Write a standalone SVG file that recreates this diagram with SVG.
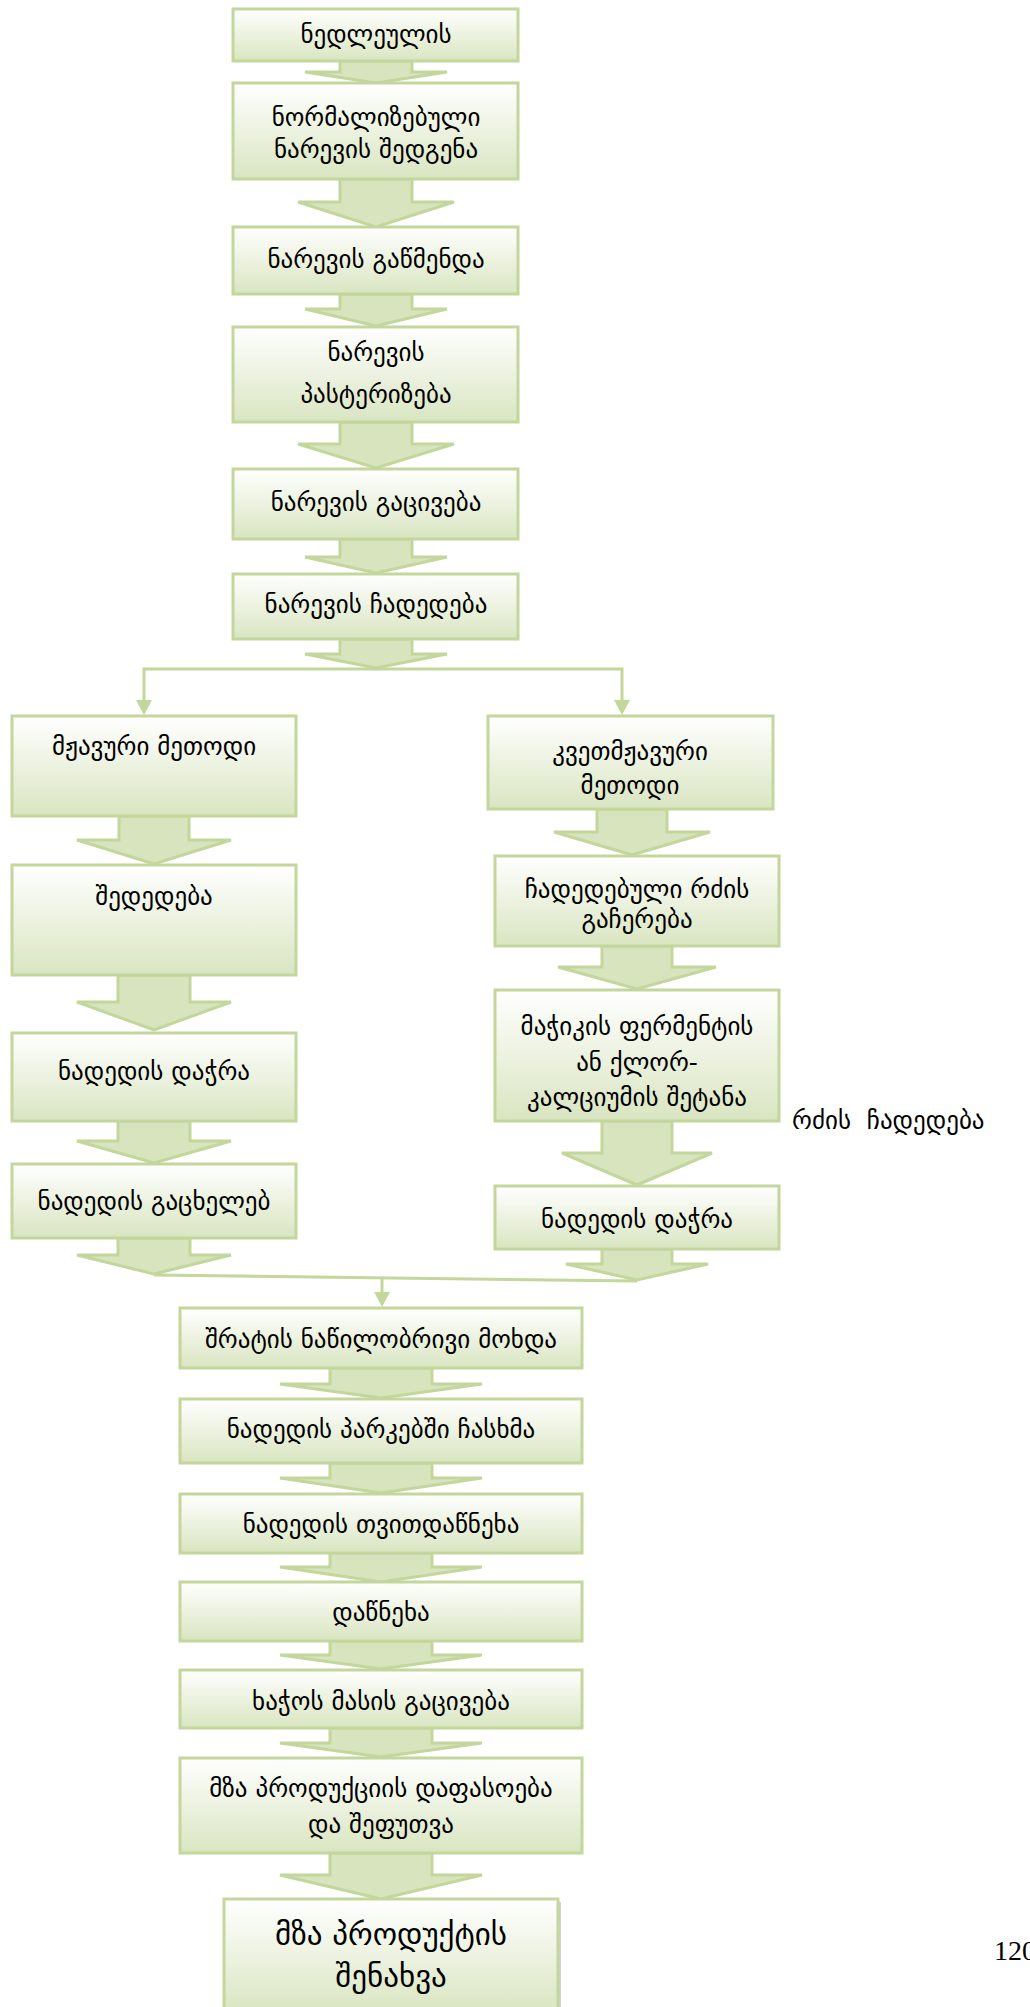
<svg xmlns="http://www.w3.org/2000/svg" width="1030" height="2007" viewBox="0 0 1030 2007">
  <style>
    .box { fill: url(#boxFill); stroke: #C3D69B; stroke-width: 3; }
    .arr { fill: #D7E4BD; stroke: #C3D69B; stroke-width: 3; stroke-linejoin: miter; }
    .con { fill: none; stroke: #C3D69B; stroke-width: 3; }
    .t { font-family: "DejaVu Sans", sans-serif; font-size: 25px; text-anchor: middle; fill: #000; }
    .big { font-size: 31px; }
    .side { font-family: "DejaVu Sans", sans-serif; font-size: 25px; fill: #000; }
    .pg { font-family: "Liberation Serif", serif; font-size: 28px; fill: #000; }
  </style>
  <defs>
    <linearGradient id="boxFill" x1="0" y1="0" x2="0" y2="1">
      <stop offset="0" stop-color="#FFFFFF"/>
      <stop offset="1" stop-color="#D9E5C1"/>
    </linearGradient>
  </defs>

  <rect width="1030" height="2007" fill="#FFFFFF"/>

  <!-- block arrows between steps -->
  <g id="connectors">
    <!-- main column -->
    <path class="arr" d="M340,61 V72 H305 L376,83 L447,72 H412 V61 Z"/>
    <path class="arr" d="M340,179 V202 H298 L376,227 L454,202 H412 V179 Z"/>
    <path class="arr" d="M340,294 V309 H305 L376,326 L447,309 H412 V294 Z"/>
    <path class="arr" d="M340,422 V444 H298 L376,468 L454,444 H412 V422 Z"/>
    <path class="arr" d="M340,539 V557 H305 L376,573 L447,557 H412 V539 Z"/>
    <path class="arr" d="M340,639 V654 H305 L376,668 L447,654 H412 V639 Z"/>

    <!-- branch to the two methods -->
    <path class="con" d="M144,704 V669 H622 V704"/>
    <path d="M136,700 L152,700 L144,715 Z" fill="#C3D69B"/>
    <path d="M614,700 L630,700 L622,715 Z" fill="#C3D69B"/>

    <!-- left column -->
    <path class="arr" d="M119,816 V840 H77 L154,864 L231,840 H189 V816 Z"/>
    <path class="arr" d="M118,975 V1002 H77 L154,1030 L231,1002 H190 V975 Z"/>
    <path class="arr" d="M118,1121 V1141 H77 L154,1163 L231,1141 H190 V1121 Z"/>
    <path class="arr" d="M118,1238 V1255 H77 L154,1274 L231,1255 H190 V1238 Z"/>

    <!-- right column -->
    <path class="arr" d="M597,809 V832 H554 L632,855 L710,832 H667 V809 Z"/>
    <path class="arr" d="M602,946 V967 H558 L637,989 L716,967 H672 V946 Z"/>
    <path class="arr" d="M602,1121 V1153 H562 L637,1185 L712,1153 H672 V1121 Z"/>
    <path class="arr" d="M602,1249 V1264 H566 L637,1280 L708,1264 H672 V1249 Z"/>

    <!-- merge line and arrow down -->
    <path class="con" d="M154,1275 L637,1281"/>
    <path class="con" d="M382,1279 V1294"/>
    <path d="M374,1292 L390,1292 L382,1307 Z" fill="#C3D69B"/>

    <!-- lower column -->
    <path class="arr" d="M330,1368 V1384 H280 L381,1398 L482,1384 H432 V1368 Z"/>
    <path class="arr" d="M330,1463 V1478 H280 L381,1493 L482,1478 H432 V1463 Z"/>
    <path class="arr" d="M330,1553 V1567 H280 L381,1582 L482,1567 H432 V1553 Z"/>
    <path class="arr" d="M330,1641 V1655 H280 L381,1669 L482,1655 H432 V1641 Z"/>
    <path class="arr" d="M330,1728 V1743 H280 L381,1757 L482,1743 H432 V1728 Z"/>
    <path class="arr" d="M330,1853 V1875 H280 L381,1899 L482,1875 H432 V1853 Z"/>
  </g>

  <!-- main column -->
  <g id="n1"><rect class="box" x="233" y="9" width="285" height="52"/>
    <text class="t" x="376" y="43">ნედლეულის</text></g>
  <g id="n2"><rect class="box" x="233" y="83" width="285" height="96"/>
    <text class="t" x="376" y="126">ნორმალიზებული</text>
    <text class="t" x="376" y="158">ნარევის შედგენა</text></g>
  <g id="n3"><rect class="box" x="233" y="227" width="285" height="67"/>
    <text class="t" x="376" y="268">ნარევის გაწმენდა</text></g>
  <g id="n4"><rect class="box" x="233" y="327" width="285" height="95"/>
    <text class="t" x="376" y="361">ნარევის</text>
    <text class="t" x="376" y="403">პასტერიზება</text></g>
  <g id="n5"><rect class="box" x="233" y="469" width="285" height="70"/>
    <text class="t" x="376" y="511">ნარევის გაცივება</text></g>
  <g id="n6"><rect class="box" x="233" y="574" width="285" height="65"/>
    <text class="t" x="376" y="613">ნარევის ჩადედება</text></g>

  <!-- acid method -->
  <g id="l1"><rect class="box" x="12" y="716" width="284" height="100"/>
    <text class="t" x="154" y="755">მჟავური მეთოდი</text></g>
  <g id="l2"><rect class="box" x="12" y="865" width="284" height="110"/>
    <text class="t" x="154" y="905">შედედება</text></g>
  <g id="l3"><rect class="box" x="12" y="1033" width="284" height="88"/>
    <text class="t" x="154" y="1080">ნადედის დაჭრა</text></g>
  <g id="l4"><rect class="box" x="12" y="1164" width="284" height="74"/>
    <text class="t" x="154" y="1210">ნადედის გაცხელებ</text></g>

  <!-- rennet-acid method -->
  <g id="r1"><rect class="box" x="488" y="716" width="285" height="93"/>
    <text class="t" x="630" y="760">კვეთმჟავური</text>
    <text class="t" x="630" y="794">მეთოდი</text></g>
  <g id="r2"><rect class="box" x="495" y="856" width="284" height="90"/>
    <text class="t" x="637" y="898">ჩადედებული რძის</text>
    <text class="t" x="637" y="928">გაჩერება</text></g>
  <g id="r3"><rect class="box" x="495" y="990" width="284" height="131"/>
    <text class="t" x="637" y="1035">მაჭიკის ფერმენტის</text>
    <text class="t" x="637" y="1071">ან ქლორ-</text>
    <text class="t" x="637" y="1106">კალციუმის შეტანა</text></g>
  <g id="r4"><rect class="box" x="495" y="1186" width="284" height="63"/>
    <text class="t" x="637" y="1228">ნადედის დაჭრა</text></g>

  <g id="side-label"><text class="side" x="792" y="1129" xml:space="preserve">რძის  ჩადედება</text></g>

  <!-- common steps -->
  <g id="m1"><rect class="box" x="180" y="1308" width="402" height="60"/>
    <text class="t" x="381" y="1348">შრატის ნაწილობრივი მოხდა</text></g>
  <g id="m2"><rect class="box" x="180" y="1399" width="402" height="64"/>
    <text class="t" x="381" y="1438">ნადედის პარკებში ჩასხმა</text></g>
  <g id="m3"><rect class="box" x="180" y="1494" width="402" height="59"/>
    <text class="t" x="381" y="1533">ნადედის თვითდაწნეხა</text></g>
  <g id="m4"><rect class="box" x="180" y="1582" width="402" height="59"/>
    <text class="t" x="381" y="1621">დაწნეხა</text></g>
  <g id="m5"><rect class="box" x="180" y="1670" width="402" height="58"/>
    <text class="t" x="381" y="1710">ხაჭოს მასის გაცივება</text></g>
  <g id="m6"><rect class="box" x="180" y="1758" width="402" height="95"/>
    <text class="t" x="381" y="1797">მზა პროდუქციის დაფასოება</text>
    <text class="t" x="381" y="1833">და შეფუთვა</text></g>
  <g id="m7">
    <rect x="227" y="1902" width="334" height="115" fill="#B5B5B5" opacity="0.6"/>
    <rect class="box" x="224" y="1899" width="334" height="115"/>
    <text class="t big" x="391" y="1945">მზა პროდუქტის</text>
    <text class="t big" x="391" y="1987">შენახვა</text></g>

  <text class="pg" x="994" y="1960">120</text>
</svg>
